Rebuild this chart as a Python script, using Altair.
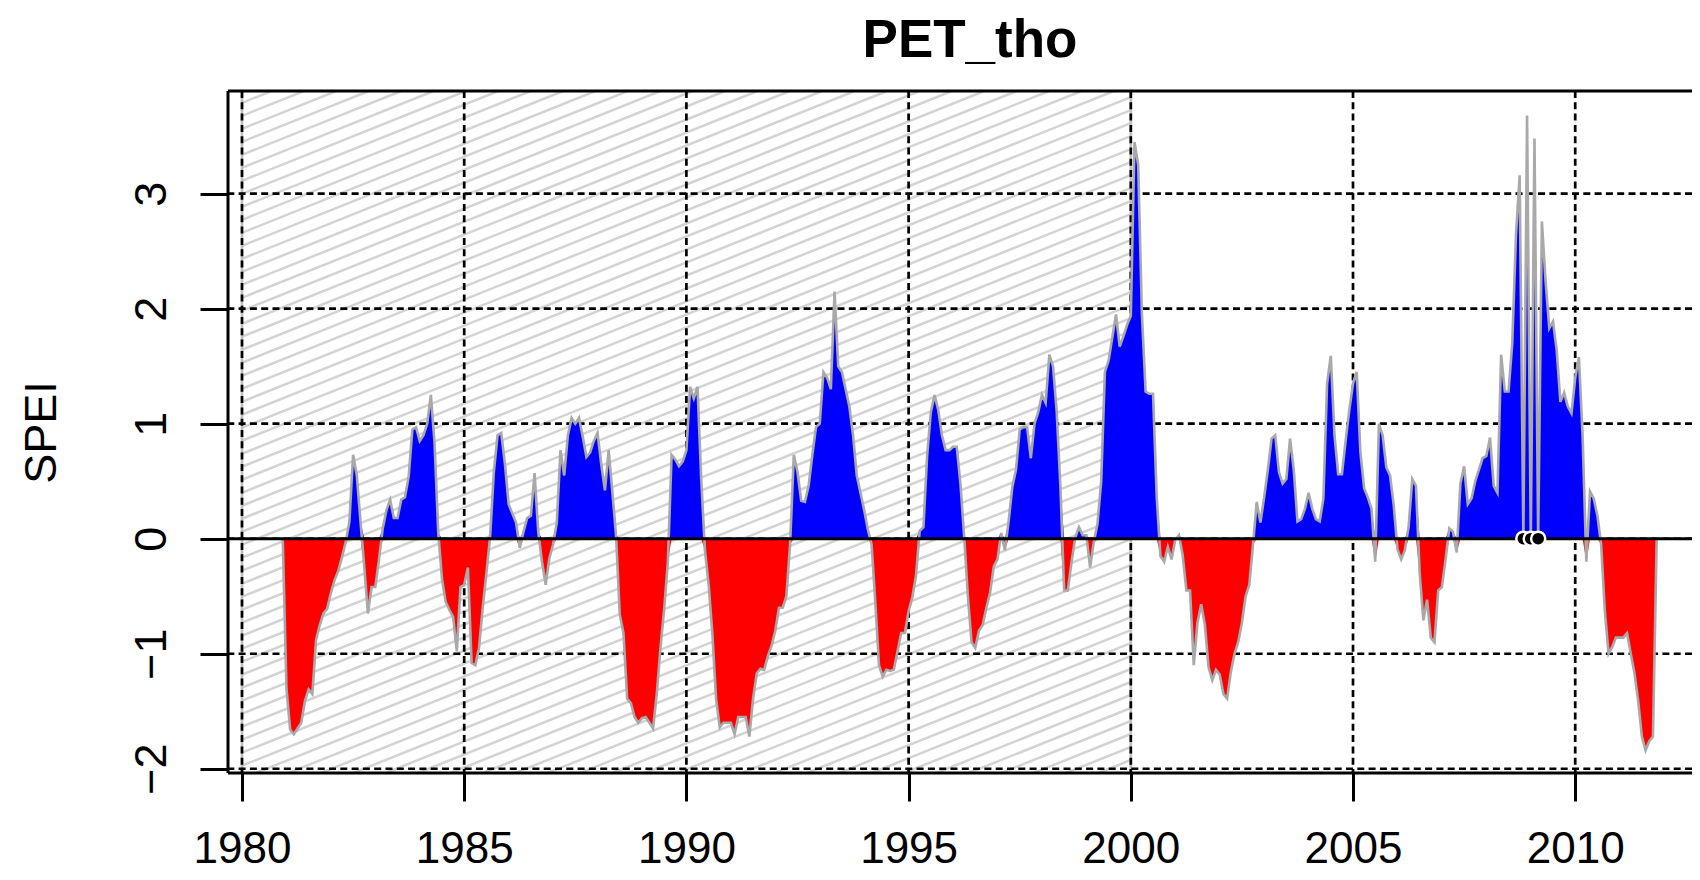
import altair as alt
import pandas as pd

TITLE = "PET_tho"
Y_TITLE = "SPEI"

# Monthly SPEI values, Jan..Dec of each year (2011 ends in October)
spei_1981 = [-1.30, -1.66, -1.70, -1.65, -1.60, -1.41, -1.31, -1.35, -0.88, -0.75, -0.65, -0.61]
spei_1982 = [-0.47, -0.36, -0.28, -0.16, -0.03, 0.15, 0.73, 0.55, 0.15, -0.24, -0.65, -0.42]
spei_1983 = [-0.42, -0.18, 0.09, 0.25, 0.34, 0.18, 0.18, 0.34, 0.36, 0.54, 0.95, 0.97]
spei_1984 = [0.85, 0.90, 1.00, 1.25, 0.83, 0.05, -0.35, -0.55, -0.62, -0.68, -0.98, -0.42]
spei_1985 = [-0.40, -0.25, -1.08, -1.10, -0.95, -0.60, -0.30, 0.02, 0.58, 0.90, 0.92, 0.65]
spei_1986 = [0.30, 0.22, 0.14, -0.08, 0.06, 0.18, 0.20, 0.57, 0.06, -0.20, -0.40, -0.17]
spei_1987 = [-0.05, 0.14, 0.77, 0.55, 0.90, 1.05, 1.00, 1.05, 0.89, 0.71, 0.75, 0.85]
spei_1988 = [0.92, 0.65, 0.42, 0.77, 0.41, 0.03, -0.66, -0.82, -1.39, -1.43, -1.55, -1.60]
spei_1989 = [-1.56, -1.55, -1.60, -1.65, -1.35, -0.95, -0.61, -0.20, 0.73, 0.69, 0.63, 0.67]
spei_1990 = [0.77, 1.32, 1.22, 1.32, 0.52, -0.10, -0.40, -0.82, -1.39, -1.64, -1.60, -1.60]
spei_1991 = [-1.60, -1.70, -1.55, -1.55, -1.55, -1.72, -1.39, -1.17, -1.13, -1.14, -1.02, -0.93]
spei_1992 = [-0.80, -0.60, -0.60, -0.50, -0.05, 0.73, 0.58, 0.33, 0.32, 0.46, 0.73, 0.97]
spei_1993 = [1.00, 1.45, 1.40, 1.30, 2.15, 1.50, 1.45, 1.30, 1.15, 0.90, 0.55, 0.40]
spei_1994 = [0.25, 0.08, -0.05, -0.55, -1.10, -1.20, -1.14, -1.15, -1.14, -0.98, -0.82, -0.82]
spei_1995 = [-0.63, -0.51, -0.32, 0.07, 0.10, 0.72, 1.10, 1.25, 1.12, 0.90, 0.77, 0.77]
spei_1996 = [0.80, 0.80, 0.48, 0.02, -0.50, -0.90, -0.95, -0.80, -0.75, -0.60, -0.47, -0.24]
spei_1997 = [-0.18, 0.05, -0.10, 0.15, 0.45, 0.60, 0.95, 0.97, 0.97, 0.70, 1.00, 1.10]
spei_1998 = [1.25, 1.18, 1.60, 1.50, 1.10, 0.45, -0.45, -0.45, -0.20, 0.01, 0.10, 0.03]
spei_1999 = [0.03, -0.25, -0.03, 0.13, 0.50, 1.45, 1.55, 1.75, 1.95, 1.67, 1.76, 1.86]
spei_2000 = [1.94, 3.45, 3.25, 1.95, 1.28, 1.26, 1.26, 0.36, -0.15, -0.20, -0.07, -0.18]
spei_2001 = [-0.01, 0.03, -0.14, -0.45, -0.45, -1.10, -0.73, -0.57, -0.75, -1.12, -1.23, -1.14]
spei_2002 = [-1.18, -1.35, -1.39, -1.16, -1.00, -0.90, -0.73, -0.50, -0.40, -0.05, 0.32, 0.14]
spei_2003 = [0.36, 0.60, 0.87, 0.90, 0.58, 0.48, 0.52, 0.87, 0.60, 0.15, 0.17, 0.26]
spei_2004 = [0.40, 0.26, 0.17, 0.15, 0.35, 1.35, 1.59, 0.90, 0.56, 0.56, 0.85, 1.12]
spei_2005 = [1.35, 1.45, 0.75, 0.44, 0.36, 0.26, -0.20, 1.00, 0.90, 0.62, 0.55, 0.29]
spei_2006 = [-0.09, -0.18, -0.10, 0.10, 0.52, 0.46, -0.30, -0.71, -0.53, -0.86, -0.90, -0.45]
spei_2007 = [-0.42, -0.18, 0.09, 0.06, -0.12, 0.48, 0.63, 0.30, 0.35, 0.50, 0.60, 0.70]
spei_2008 = [0.72, 0.88, 0.46, 0.40, 1.60, 1.28, 1.28, 1.70, 2.64, 3.16, 0.00, 3.68]
spei_2009 = [0.00, 3.48, 0.00, 2.76, 2.24, 1.83, 1.89, 1.64, 1.19, 1.27, 1.15, 1.09]
spei_2010 = [1.40, 1.58, 0.89, -0.20, 0.41, 0.35, 0.20, -0.05, -0.63, -1.00, -0.94, -0.86]
spei_2011 = [-0.86, -0.86, -0.82, -1.00, -1.17, -1.41, -1.72, -1.84, -1.76, -1.72]

FIRST_YEAR = 1981
YEARS = [spei_1981, spei_1982, spei_1983, spei_1984, spei_1985, spei_1986, spei_1987,
         spei_1988, spei_1989, spei_1990, spei_1991, spei_1992, spei_1993, spei_1994,
         spei_1995, spei_1996, spei_1997, spei_1998, spei_1999, spei_2000, spei_2001,
         spei_2002, spei_2003, spei_2004, spei_2005, spei_2006, spei_2007, spei_2008,
         spei_2009, spei_2010, spei_2011]

X_TICKS = [1980, 1985, 1990, 1995, 2000, 2005, 2010]
Y_TICKS = [-2, -1, 0, 1, 2, 3]
REF_PERIOD = [1980, 2000]
X_DOMAIN = [1979.685, 2012.628]
Y_DOMAIN = [-2.037, 3.893]
HATCH_SLOPE = 0.155   # SPEI units per year
HATCH_STEP = 0.113    # SPEI units between hatch lines

W, H = 1464, 682

# ---- build tables ----
series = [v for yr in YEARS for v in yr]
times = [FIRST_YEAR + i / 12 for i in range(len(series))]
t_full = [times[0] - 1 / 12] + times + [times[-1] + 1 / 12]
v_full = [0.0] + series + [0.0]
df = pd.DataFrame({"t": t_full, "v": v_full})
df["pos"] = df["v"].clip(lower=0)
df["neg"] = df["v"].clip(upper=0)
df["zero"] = 0.0

# months whose value is exactly zero are marked with a dot (as in the original)
pts = pd.DataFrame({"t": [t for t, v in zip(times, series) if v == 0],
                    "v": [0.0 for v in series if v == 0]})

# hatch lines of the reference period
hatch = []
y0, y1 = Y_DOMAIN
span = REF_PERIOD[1] - REF_PERIOD[0]
b = y0 - HATCH_SLOPE * span
while b < y1:
    t_lo = max(REF_PERIOD[0], REF_PERIOD[0] + (y0 - b) / HATCH_SLOPE)
    t_hi = min(REF_PERIOD[1], REF_PERIOD[0] + (y1 - b) / HATCH_SLOPE)
    if t_hi > t_lo:
        hatch.append({"t": t_lo, "t2": t_hi,
                      "v": b + HATCH_SLOPE * (t_lo - REF_PERIOD[0]),
                      "v2": b + HATCH_SLOPE * (t_hi - REF_PERIOD[0])})
    b += HATCH_STEP
hatch_df = pd.DataFrame(hatch)

xs = alt.Scale(domain=X_DOMAIN, nice=False, zero=False)
ys = alt.Scale(domain=Y_DOMAIN, nice=False, zero=False)
FONT = "Liberation Sans"

xaxis = alt.Axis(values=X_TICKS, format="d", title=None, grid=False, domain=False,
                 tickSize=28, tickWidth=3, tickColor="black",
                 labelFontSize=44, labelFont=FONT, labelColor="black",
                 labelPadding=61, labelBaseline="alphabetic", labelFlush=False,
                 labelOverlap=False)
yaxis = alt.Axis(values=Y_TICKS, title=Y_TITLE, grid=False, domain=False,
                 tickSize=28, tickWidth=3, tickColor="black",
                 labelFontSize=45, labelFont=FONT, labelColor="black",
                 labelAngle=270, labelAlign="center", labelBaseline="alphabetic",
                 labelPadding=35, labelFlush=False, labelOverlap=False,
                 titleFontSize=45, titleFont=FONT, titleFontWeight="normal",
                 titleColor="black", titleAngle=270, titleAlign="center",
                 titleBaseline="alphabetic", titleX=-173, titleY=H / 2)


def X(field):
    return alt.X(field, type="quantitative", scale=xs, axis=xaxis)


def Y(field):
    return alt.Y(field, type="quantitative", scale=ys, axis=yaxis)


hatch_layer = alt.Chart(hatch_df).mark_rule(color="#d3d3d3", strokeWidth=2.5, clip=True).encode(
    x=X("t"), x2="t2:Q", y=Y("v"), y2="v2:Q")

ref_lines = alt.Chart(pd.DataFrame({"t": REF_PERIOD})).mark_rule(
    color="#bebebe", strokeWidth=2.6).encode(x=X("t"))

vgrid = alt.Chart(pd.DataFrame({"t": X_TICKS})).mark_rule(
    color="black", strokeWidth=2.7, strokeDash=[7, 4.3]).encode(x=X("t"))
hgrid = alt.Chart(pd.DataFrame({"v": Y_TICKS})).mark_rule(
    color="black", strokeWidth=2.7, strokeDash=[7, 4.3]).encode(y=Y("v"))

base = alt.Chart(df)
pos_area = base.mark_area(color="#0000ff", interpolate="linear").encode(
    x=X("t"), y=Y("pos"), y2="zero:Q")
neg_area = base.mark_area(color="#ff0000", interpolate="linear").encode(
    x=X("t"), y=Y("neg"), y2="zero:Q")
grey_line = base.mark_line(color="#a9a9a9", strokeWidth=2.6).encode(
    x=X("t"), y=Y("v"))

zero_line = alt.Chart(pd.DataFrame({"v": [0]})).mark_rule(color="black", strokeWidth=3).encode(
    y=Y("v"))

points = alt.Chart(pts).mark_point(shape="circle", filled=True, fill="black",
                                    stroke="white", strokeWidth=2.5, size=200, opacity=1).encode(
    x=X("t"), y=Y("v"))

one = alt.Data(values=[{"k": 1}])
box_top = alt.Chart(one).mark_rule(color="black", strokeWidth=3).encode(
    x=alt.value(0), x2=alt.value(W), y=alt.value(0))
box_left = alt.Chart(one).mark_rule(color="black", strokeWidth=3).encode(
    x=alt.value(0), y=alt.value(0), y2=alt.value(H))
box_bottom = alt.Chart(one).mark_rule(color="black", strokeWidth=3).encode(
    x=alt.value(0), x2=alt.value(W), y=alt.value(H))

title_mark = alt.Chart(one).mark_text(
    text=TITLE, font=FONT, fontSize=53, fontWeight="bold", color="black",
    align="center", baseline="alphabetic").encode(
    x=alt.value(742), y=alt.value(-34))

chart = alt.layer(
    hatch_layer, ref_lines, vgrid, hgrid, pos_area, neg_area, grey_line,
    zero_line, points, box_top, box_left, box_bottom, title_mark
).properties(
    width=W, height=H,
    autosize=alt.AutoSizeParams(type="none"),
    padding={"left": 220, "top": 83, "right": 0, "bottom": 99},
).configure_view(stroke=None).configure(background="white")

chart.save("out.html", embed_options={"renderer": "svg", "actions": False})
